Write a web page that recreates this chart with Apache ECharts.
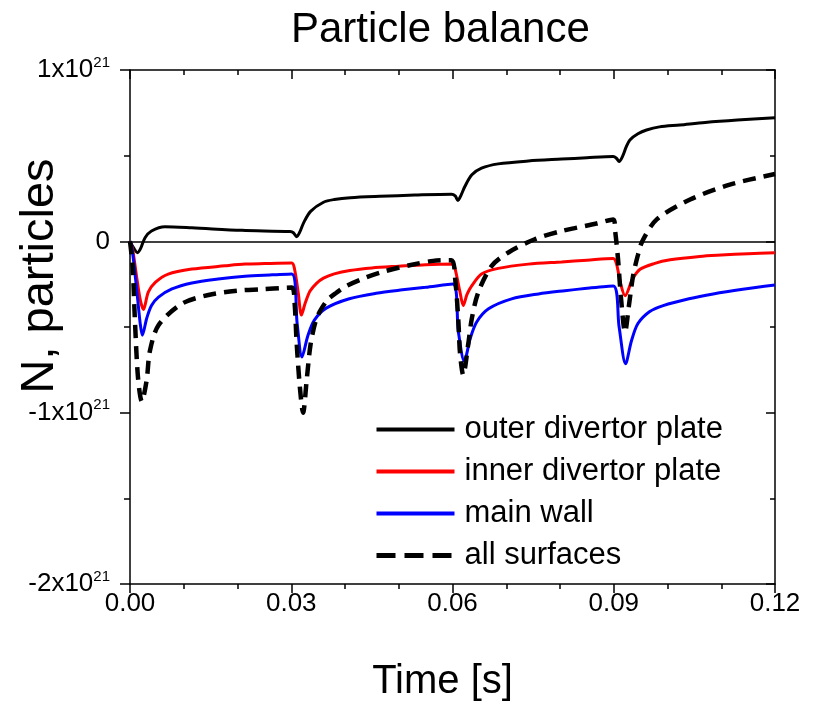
<!DOCTYPE html>
<html>
<head>
<meta charset="utf-8">
<script src="https://cdn.jsdelivr.net/npm/echarts@6/dist/echarts.min.js"></script>
<style>
  html, body { margin: 0; padding: 0; background: #fff; }
  #chart { width: 815px; height: 707px; }
</style>
</head>
<body>
<div id="chart"></div>
<script>
// values, N in units of 1e21 particles
const UNIT = 1e21;

const outerT = [0, 0.0007, 0.0014, 0.002, 0.0028, 0.004, 0.0065, 0.0115, 0.0208, 0.0298, 0.0304, 0.031,
  0.0316, 0.0323, 0.0336, 0.036, 0.038, 0.041, 0.0465, 0.053, 0.0598, 0.0605, 0.061, 0.0616, 0.0623, 0.0636,
  0.0654, 0.0685, 0.0741, 0.0803, 0.085, 0.0899, 0.0905, 0.091, 0.0917, 0.0923, 0.093, 0.0945, 0.0961, 0.0985,
  0.1023, 0.107, 0.113, 0.12];
const outerN = [0, -0.04, -0.066, -0.04, 0.021, 0.06, 0.085, 0.079, 0.064, 0.057, 0.05, 0.027,
  0.055, 0.108, 0.175, 0.228, 0.244, 0.255, 0.263, 0.27, 0.275, 0.265, 0.239, 0.27, 0.32, 0.388,
  0.427, 0.452, 0.469, 0.48, 0.488, 0.495, 0.485, 0.466, 0.5, 0.55, 0.592, 0.628, 0.65, 0.668,
  0.679, 0.694, 0.708, 0.721];

const innerT = [0, 0.0005, 0.0012, 0.0019, 0.0025, 0.0034, 0.0047, 0.0071, 0.0115, 0.0177, 0.0214, 0.025, 0.0301,
  0.0306, 0.0313, 0.0319, 0.0326, 0.0335, 0.0347, 0.036, 0.038, 0.0409, 0.045, 0.05, 0.055, 0.0601,
  0.0605, 0.0614, 0.062, 0.0627, 0.0636, 0.0654, 0.0685, 0.0741, 0.0803, 0.085, 0.0899,
  0.0905, 0.0913, 0.0921, 0.0935, 0.0949, 0.0975, 0.1005, 0.106, 0.11, 0.115, 0.12];
const innerN = [0, -0.05, -0.2, -0.34, -0.398, -0.297, -0.24, -0.191, -0.162, -0.143, -0.133, -0.13, -0.127,
  -0.16, -0.3, -0.43, -0.36, -0.29, -0.245, -0.215, -0.19, -0.17, -0.155, -0.145, -0.136, -0.133,
  -0.162, -0.297, -0.375, -0.31, -0.259, -0.191, -0.158, -0.133, -0.12, -0.11, -0.1,
  -0.13, -0.25, -0.317, -0.22, -0.163, -0.13, -0.108, -0.088, -0.08, -0.072, -0.066];

const wallT = [0, 0.0003, 0.0008, 0.0014, 0.0019, 0.0023, 0.0031, 0.004, 0.0053, 0.0078, 0.0115, 0.0164, 0.0214,
  0.026, 0.0301, 0.0311, 0.032, 0.0331, 0.0343, 0.0365, 0.0408, 0.0458, 0.0507, 0.055, 0.0601, 0.0611, 0.0622,
  0.0633, 0.0645, 0.0667, 0.071, 0.076, 0.0809, 0.0855, 0.0899, 0.091, 0.0922, 0.0933, 0.0945, 0.0967, 0.0992,
  0.104, 0.1085, 0.114, 0.12];
const wallN = [0, -0.027, -0.15, -0.33, -0.48, -0.548, -0.45, -0.375, -0.326, -0.278, -0.243, -0.22, -0.204,
  -0.196, -0.19, -0.48, -0.675, -0.55, -0.46, -0.39, -0.335, -0.303, -0.283, -0.268, -0.249, -0.529, -0.7,
  -0.567, -0.471, -0.394, -0.336, -0.307, -0.288, -0.272, -0.26, -0.5, -0.714, -0.58, -0.48, -0.41, -0.375,
  -0.335, -0.307, -0.28, -0.255];

const allT = [0, 0.0005, 0.0009, 0.0015, 0.0022, 0.0031, 0.0037, 0.0053, 0.0096, 0.0146, 0.0199, 0.0242, 0.0301,
  0.0306, 0.031, 0.0316, 0.0322, 0.0329, 0.0336, 0.0345, 0.0353, 0.0368, 0.0384, 0.0403, 0.044, 0.0477, 0.052,
  0.0564, 0.0598, 0.0605, 0.0611, 0.0614, 0.062, 0.0629, 0.0636, 0.0648, 0.0673, 0.0704, 0.0753, 0.0803, 0.0868,
  0.0899, 0.0903, 0.0908, 0.0914, 0.0921, 0.0928, 0.0936, 0.0945, 0.0953, 0.098, 0.1042, 0.1116, 0.12];
const allN = [0, -0.15, -0.45, -0.8, -0.934, -0.81, -0.64, -0.49, -0.365, -0.313, -0.288, -0.28, -0.27,
  -0.35, -0.59, -0.85, -1.0, -0.8, -0.6, -0.47, -0.41, -0.34, -0.3, -0.26, -0.21, -0.172, -0.14,
  -0.114, -0.11, -0.22, -0.47, -0.654, -0.78, -0.606, -0.45, -0.297, -0.143, -0.065, 0.012, 0.06, 0.104,
  0.128, 0.05, -0.105, -0.35, -0.53, -0.38, -0.2, -0.08, 0.0, 0.128, 0.244, 0.331, 0.393];

const timeTicks = [0, 0.03, 0.06, 0.09, 0.12];

const font = '"Liberation Sans", Arial, sans-serif';

function pairs(ts, ns) {
    return ts.map((t, i) => [t, ns[i] * UNIT]);
}

function yLabel(v) {
    const k = Math.round(v / UNIT);
    if (k === 0) return '{a|0}';
    return '{a|' + k + 'x10}{b|21}';
}

const lineSeries = (name, ts, ns, color, width, type) => ({
    name: name,
    type: 'line',
    data: pairs(ts, ns),
    showSymbol: false,
    symbol: 'none',
    smooth: 0.3,
    lineStyle: { color: color, width: width, type: type },
    itemStyle: { color: color },
    z: 3,
});

const legendItem = (name, color, type) => ({
    name: name,
    itemStyle: { opacity: 0 },
    lineStyle: { color: color, width: type === 'solid' ? 4 : 5, type: type, opacity: 1 },
});

const chart = echarts.init(document.getElementById('chart'), null, { renderer: 'canvas' });

const option = {
    animation: false,
    backgroundColor: '#fff',
    title: {
        text: 'Particle balance',
        left: 286,
        top: 4,
        textStyle: { fontFamily: font, fontSize: 42, fontWeight: 'normal', color: '#000' },
    },
    grid: { left: 130, right: 40, top: 70, bottom: 119 },
    legend: {
        orient: 'vertical',
        left: 374,
        top: 414,
        padding: 0,
        itemWidth: 78,
        itemHeight: 14,
        itemGap: 11,
        itemStyle: { opacity: 0 },
        textStyle: { fontFamily: font, fontSize: 31, color: '#000', lineHeight: 30, padding: [0, 0, 0, 5] },
        data: [
            legendItem('outer divertor plate', '#000000', 'solid'),
            legendItem('inner divertor plate', '#ff0000', 'solid'),
            legendItem('main wall', '#0000ff', 'solid'),
            legendItem('all surfaces', '#000000', [19, 9]),
        ],
    },
    graphic: [
        {
            type: 'text',
            x: 40,
            y: 276,
            rotation: Math.PI / 2,
            style: {
                text: 'N, particles',
                fontFamily: font,
                fontSize: 47,
                fill: '#000',
                align: 'center',
                verticalAlign: 'middle',
            },
        },
    ],
    xAxis: [
        {
            type: 'value',
            min: 0,
            max: 0.12,
            interval: 0.03,
            name: 'Time [s]',
            nameLocation: 'middle',
            nameGap: 78,
            nameTextStyle: { fontFamily: font, fontSize: 40, color: '#000', padding: [0, 20, 0, 0] },
            axisLine: { show: true, onZero: false, lineStyle: { color: '#000', width: 1.5 } },
            axisTick: { show: true, inside: false, length: 9, lineStyle: { color: '#000', width: 1.5 } },
            minorTick: { show: true, splitNumber: 3, length: 5, lineStyle: { color: '#000', width: 1.5 } },
            splitLine: { show: false },
            axisLabel: {
                margin: 7,
                fontFamily: font,
                fontSize: 26,
                color: '#000',
                formatter: (v) => (timeTicks.some((t) => Math.abs(t - v) < 1e-9) ? v.toFixed(2) : ''),
            },
        },
        {
            type: 'value',
            position: 'top',
            min: 0,
            max: 0.12,
            interval: 0.03,
            axisLine: { show: true, onZero: false, lineStyle: { color: '#000', width: 1.5 } },
            axisTick: { show: true, inside: true, length: 9, lineStyle: { color: '#000', width: 1.5 } },
            minorTick: { show: true, splitNumber: 3, length: 5, lineStyle: { color: '#000', width: 1.5 } },
            splitLine: { show: false },
            axisLabel: { show: false },
        },
    ],
    yAxis: [
        {
            type: 'value',
            min: -2 * UNIT,
            max: 1 * UNIT,
            interval: UNIT,
            axisLine: { show: true, onZero: false, lineStyle: { color: '#000', width: 1.5 } },
            axisTick: { show: true, inside: false, length: 10, lineStyle: { color: '#000', width: 1.5 } },
            minorTick: { show: true, splitNumber: 2, length: 6, lineStyle: { color: '#000', width: 1.5 } },
            splitLine: { show: false },
            axisLabel: {
                margin: 20,
                formatter: yLabel,
                rich: {
                    a: { fontFamily: font, fontSize: 26, color: '#000', lineHeight: 30 },
                    b: { fontFamily: font, fontSize: 15, color: '#000', lineHeight: 14, verticalAlign: 'top' },
                },
            },
        },
        {
            type: 'value',
            position: 'right',
            min: -2 * UNIT,
            max: 1 * UNIT,
            interval: UNIT,
            axisLine: { show: true, onZero: false, lineStyle: { color: '#000', width: 1.5 } },
            axisTick: { show: true, inside: true, length: 9, lineStyle: { color: '#000', width: 1.5 } },
            minorTick: { show: true, splitNumber: 2, length: 5, lineStyle: { color: '#000', width: 1.5 } },
            splitLine: { show: false },
            axisLabel: { show: false },
        },
    ],
    series: [
        Object.assign(lineSeries('outer divertor plate', outerT, outerN, '#000000', 3, 'solid'), {
            markLine: {
                silent: true,
                symbol: 'none',
                label: { show: false },
                lineStyle: { color: '#000', width: 1.5, type: 'solid' },
                data: [{ yAxis: 0 }],
                z: 2,
            },
        }),
        lineSeries('inner divertor plate', innerT, innerN, '#ff0000', 3, 'solid'),
        lineSeries('main wall', wallT, wallN, '#0000ff', 3, 'solid'),
        lineSeries('all surfaces', allT, allN, '#000000', 4.5, [13, 8]),
    ],
};

chart.setOption(option);
</script>
</body>
</html>
